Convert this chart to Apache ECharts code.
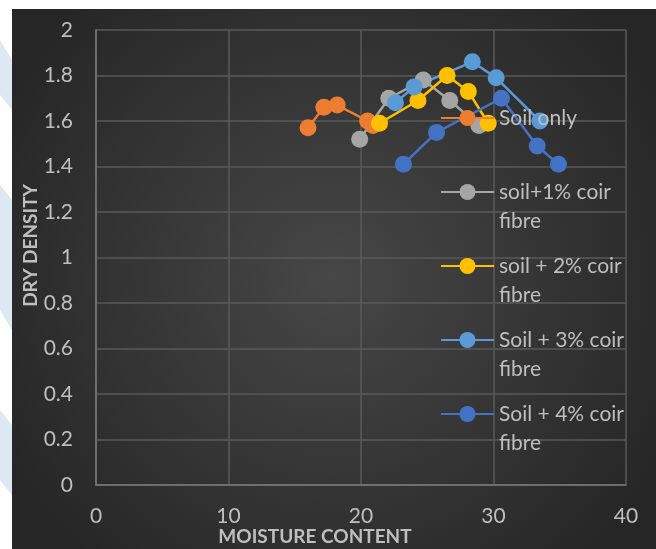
<!DOCTYPE html>
<html>
<head>
<meta charset="utf-8">
<script src="https://cdn.jsdelivr.net/npm/echarts@6/dist/echarts.min.js"></script>
<style>
  html, body { margin: 0; padding: 0; background: #ffffff; }
  #chart { width: 656px; height: 549px; }
</style>
</head>
<body>
<div id="chart"></div>
<script>
// moisture content (x) / dry density (y) per mix
var soilOnlyX = [16.0, 17.2, 18.2, 20.5, 20.9];
var soilOnlyY = [1.57, 1.66, 1.67, 1.60, 1.58];
var coir1X = [19.9, 22.1, 24.7, 26.7, 28.9];
var coir1Y = [1.52, 1.70, 1.78, 1.69, 1.58];
var coir2X = [21.4, 24.3, 26.5, 28.1, 29.6];
var coir2Y = [1.59, 1.69, 1.80, 1.73, 1.59];
var coir3X = [22.6, 24.0, 28.4, 30.2, 33.5];
var coir3Y = [1.68, 1.75, 1.86, 1.79, 1.60];
var coir4X = [23.2, 25.7, 30.6, 33.3, 34.9];
var coir4Y = [1.41, 1.55, 1.70, 1.49, 1.41];

var seriesNames = ['Soil only', 'soil+1% coir fibre', 'soil + 2% coir fibre', 'Soil + 3% coir fibre', 'Soil + 4% coir fibre'];
// leading blank line keeps the first text line level with the legend icon
var legendLabels = ['\nSoil only\n ', '\nsoil+1% coir\nfibre', '\nsoil + 2% coir\nfibre', '\nSoil + 3% coir\nfibre', '\nSoil + 4% coir\nfibre'];
var seriesColors = ['#ED7D31', '#A5A5A5', '#FFC000', '#5B9BD5', '#4472C4'];

var xTicks = { min: 0, max: 40, interval: 10 };
var yTicks = { min: 0, max: 2, interval: 0.2 };

var allX = [soilOnlyX, coir1X, coir2X, coir3X, coir4X];
var allY = [soilOnlyY, coir1Y, coir2Y, coir3Y, coir4Y];

function pairs(xs, ys) {
  return xs.map(function (x, i) { return [x, ys[i]]; });
}

var chart = echarts.init(document.getElementById('chart'));

var txt = '#bfbfbf';
var font = 'Lato';

chart.setOption({
  backgroundColor: '#ffffff',
  animation: false,
  graphic: [
    // faint watermark in the white strip
    { type: 'polygon', z: -100, shape: { points: [[0, 40], [12, 60], [12, 110], [0, 95]] }, style: { fill: '#dce9f2' } },
    { type: 'polygon', z: -100, shape: { points: [[0, 185], [12, 200], [12, 330], [0, 310]] }, style: { fill: '#dce9f2' } },
    { type: 'polygon', z: -100, shape: { points: [[0, 410], [12, 425], [12, 495], [0, 480]] }, style: { fill: '#dce9f2' } },
    {
      type: 'rect', z: -99,
      shape: { x: 12, y: 9, width: 644, height: 540 },
      style: {
        fill: new echarts.graphic.RadialGradient(0.5, 0.5, 0.7, [
          { offset: 0, color: '#474747' },
          { offset: 1, color: '#262626' }
        ])
      }
    }
  ],
  grid: { left: 96, right: 30, top: 30, bottom: 64, outerBoundsMode: 'none' },
  xAxis: {
    type: 'value',
    min: xTicks.min, max: xTicks.max, interval: xTicks.interval,
    name: 'MOISTURE CONTENT',
    nameLocation: 'middle',
    nameGap: 42,
    nameMoveOverlap: false,
    nameTextStyle: { color: txt, fontFamily: font, fontWeight: 'bold', fontSize: 19, padding: [0, 92, 0, 0] },
    axisLine: { lineStyle: { color: '#7a7a7a', width: 1.5 } },
    axisTick: { show: false },
    axisLabel: { color: txt, fontFamily: font, fontSize: 21, margin: 21 },
    splitLine: { show: true, lineStyle: { color: '#5a5a5a', width: 1.5 } }
  },
  yAxis: {
    type: 'value',
    min: yTicks.min, max: yTicks.max, interval: yTicks.interval,
    name: 'DRY DENSITY',
    nameLocation: 'middle',
    nameRotate: 90,
    nameGap: 56,
    nameMoveOverlap: false,
    nameTextStyle: { color: txt, fontFamily: font, fontWeight: 'bold', fontSize: 19, padding: [0, 0, 0, 24] },
    axisLine: { show: true, lineStyle: { color: '#7a7a7a', width: 1.5 } },
    axisTick: { show: false },
    axisLabel: { color: txt, fontFamily: font, fontSize: 21, margin: 23 },
    splitLine: { show: true, lineStyle: { color: '#5a5a5a', width: 1.5 } }
  },
  legend: {
    orient: 'vertical',
    left: 440,
    top: 74.5,
    padding: 0,
    itemGap: -13,
    itemWidth: 53,
    itemHeight: 20,
    data: seriesNames,
    formatter: function (name) {
      return legendLabels[seriesNames.indexOf(name)];
    },
    textStyle: { color: txt, fontFamily: font, fontSize: 21, lineHeight: 29 }
  },
  series: seriesNames.map(function (name, i) {
    return {
      name: name,
      type: 'line',
      data: pairs(allX[i], allY[i]),
      symbol: 'circle',
      symbolSize: 17,
      color: seriesColors[i],
      lineStyle: { width: 2.5, color: seriesColors[i] },
      itemStyle: { color: seriesColors[i] }
    };
  })
});
</script>
</body>
</html>
